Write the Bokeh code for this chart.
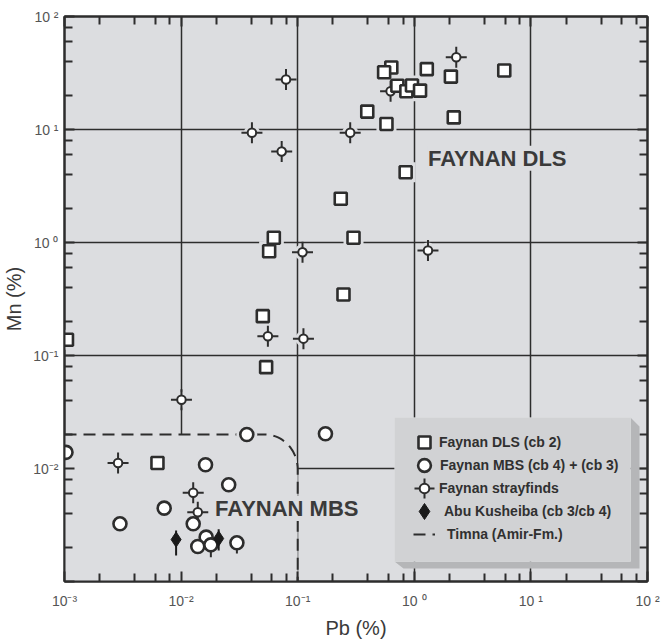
import numpy as np
from bokeh.plotting import figure
from bokeh.models import (Range1d, FixedTicker, LogAxis, Legend, LegendItem,
                          Label, PolyAnnotation)
from bokeh.embed import file_html
from bokeh.resources import INLINE

# ---------------- data ----------------
dls_pb = [0.635, 0.551, 1.28, 2.06, 5.91, 0.716, 0.855, 0.955, 1.12, 0.395, 0.577,
          2.18, 0.843, 0.234, 0.0624, 0.0569, 0.301, 0.247, 0.0502, 0.0536, 0.00105, 0.00627]
dls_mn = [35.4, 32.1, 34.2, 29.4, 33.3, 24.4, 21.8, 24.5, 22.1, 14.4, 11.2,
          12.8, 4.19, 2.44, 1.10, 0.837, 1.10, 0.347, 0.223, 0.0789, 0.138, 0.0112]

mbs_pb = [0.0366, 0.173, 0.0162, 0.0256, 0.00716, 0.00299, 0.0127, 0.0164, 0.0139,
          0.0180, 0.0301, 0.00103]
mbs_mn = [0.0200, 0.0203, 0.0108, 0.00718, 0.00446, 0.00324, 0.00324, 0.00247, 0.00204,
          0.00211, 0.00220, 0.0139]
mbs_tail_pb = [0.0180, 0.0301]
mbs_tail_top = [0.00211, 0.00220]
mbs_tail_low = [0.00164, 0.00177]

sf_pb = [2.29, 0.0794, 0.626, 0.0405, 0.282, 0.0729, 0.110, 1.31, 0.0555, 0.112,
         0.01007, 0.00288, 0.0127, 0.0139]
sf_mn = [43.6, 27.7, 21.8, 9.35, 9.35, 6.39, 0.82, 0.849, 0.148, 0.141,
         0.0406, 0.0112, 0.0061, 0.0041]

ak_pb = [0.00906, 0.0210]
ak_mn = [0.00235, 0.00240]
ak_low = [0.00170, 0.00188]
ak_high = [0.00282, 0.00290]

# Timna (Amir-Fm.) field: Pb < 0.1 %, Mn < 0.02 %, rounded upper-right corner
timna_pb_max = 0.1
timna_mn_max = 0.02
timna_corner_pb = 0.0522
timna_corner_mn = 0.0098
axis_min = 1e-3
axis_max = 1e2

decades = [1e-3, 1e-2, 1e-1, 1, 10, 100]
tick_labels = ["10\u207b\u00b3", "10\u207b\u00b2", "10\u207b\u00b9", "10 \u2070", "10 \u00b9", "10 \u00b2"]
minor_mult = [2, 4, 6, 8]

legend_labels = ["Faynan DLS (cb 2)", "Faynan MBS (cb 4) + (cb 3)", "Faynan strayfinds",
                 "Abu Kusheiba (cb 3/cb 4)", "Timna (Amir-Fm.)"]

# ---------------- styling ----------------
BG = "#dcdde0"
INK = "#2d2d2d"
FONT = "Liberation Sans"

p = figure(width=668, height=644, x_axis_type="log", y_axis_type="log",
           x_range=Range1d(axis_min, axis_max), y_range=Range1d(axis_min, axis_max),
           output_backend="svg", toolbar_location=None,
           min_border_left=62, min_border_right=21, min_border_top=16, min_border_bottom=63,
           background_fill_color=BG, border_fill_color="white")
p.outline_line_color = INK
p.outline_line_width = 2

minor = [m * d for d in decades[:-1] for m in minor_mult]
ticker = FixedTicker(ticks=decades, minor_ticks=minor)

def style_axis(ax):
    ax.ticker = ticker
    ax.axis_line_color = INK
    ax.axis_line_width = 2
    ax.major_tick_line_color = INK
    ax.major_tick_line_width = 2
    ax.minor_tick_line_color = INK
    ax.minor_tick_line_width = 2
    ax.major_tick_in = 10
    ax.major_tick_out = 0
    ax.minor_tick_in = 8
    ax.minor_tick_out = 0
    ax.major_label_text_font = FONT
    ax.major_label_text_font_size = "14px"
    ax.major_label_text_color = "#555555"
    ax.axis_label_text_font = FONT
    ax.axis_label_text_font_style = "normal"
    ax.axis_label_text_font_size = "20px"
    ax.axis_label_text_color = "#3a3a3a"

xax = p.xaxis[0]
yax = p.yaxis[0]
style_axis(xax)
style_axis(yax)
xax.major_label_overrides = {t: s for t, s in zip(decades, tick_labels)}
ylabels = {t: s for t, s in zip(decades, tick_labels)}
ylabels[decades[0]] = " "
yax.major_label_overrides = ylabels
xax.major_label_standoff = 11
yax.major_label_standoff = 6
xax.axis_label = "Pb (%)"
yax.axis_label = "Mn (%)"
xax.axis_label_standoff = 5
yax.axis_label_standoff = 5

for loc in ("above", "right"):
    ax = LogAxis()
    style_axis(ax)
    ax.major_label_text_font_size = "2px"
    ax.major_label_text_color = None
    ax.major_label_standoff = 0
    p.add_layout(ax, loc)

for g in (p.xgrid[0], p.ygrid[0]):
    g.ticker = FixedTicker(ticks=decades[1:-1])
    g.grid_line_color = INK
    g.grid_line_width = 1.5

# ---------------- Timna field outline ----------------
t = np.linspace(0, np.pi / 2, 20)
cx, cy = np.log10(timna_corner_pb), np.log10(timna_corner_mn)
rx = np.log10(timna_pb_max) - cx
ry = np.log10(timna_mn_max) - cy
arc_x = 10 ** (cx + rx * np.sin(t))
arc_y = 10 ** (cy + ry * np.cos(t))
tl_x = [axis_min] + list(arc_x) + [timna_pb_max]
tl_y = [timna_mn_max] + list(arc_y) + [axis_min]

p.patch(tl_x + [axis_min], tl_y + [axis_min], fill_color=BG, line_color=None)
timna_r = p.line(tl_x, tl_y, line_color=INK, line_width=2, line_dash="12 7")

# halos that knock out grid lines around the symbols
p.scatter(sf_pb, sf_mn, marker="circle", size=16, fill_color=BG, line_color=None)
p.scatter(dls_pb, dls_mn, marker="square", size=20, fill_color=BG, line_color=None)
p.scatter(mbs_pb, mbs_mn, marker="circle", size=21, fill_color=BG, line_color=None)

# strayfinds
sf_cross = p.scatter(sf_pb, sf_mn, marker="cross", size=21, line_color=INK, line_width=2)
sf_circ = p.scatter(sf_pb, sf_mn, marker="circle", size=8.5, fill_color="white",
                    line_color=INK, line_width=2)
# DLS
dls_r = p.scatter(dls_pb, dls_mn, marker="square", size=12, fill_color="white",
                  line_color=INK, line_width=2.6)
# MBS
p.segment(mbs_tail_pb, mbs_tail_low, mbs_tail_pb, mbs_tail_top, line_color=INK, line_width=2)
mbs_r = p.scatter(mbs_pb, mbs_mn, marker="circle", size=13, fill_color="white",
                  line_color=INK, line_width=2.6)
# Abu Kusheiba
p.segment(ak_pb, ak_low, ak_pb, ak_high, line_color="#1a1a1a", line_width=2)
ak_r = p.scatter(ak_pb, ak_mn, marker="diamond", size=15, fill_color="#1a1a1a",
                 line_color="#1a1a1a", line_width=1)

# field labels
p.add_layout(Label(x=1.31, y=5.56, text="FAYNAN DLS", text_font=FONT,
                   text_font_size="22px", text_font_style="bold", text_color="#3a3a3a",
                   text_baseline="middle", background_fill_color=BG))
p.add_layout(Label(x=0.01955, y=0.00443, text="FAYNAN MBS", text_font=FONT,
                   text_font_size="22px", text_font_style="bold", text_color="#3a3a3a",
                   text_baseline="middle", background_fill_color=BG))

# ---------------- legend (box with drop shadow, one row per entry) ----------------
# legend frame, in pixels from the plot frame's lower-left corner
LB_L, LB_R, LB_B, LB_T = 330, 566, 20, 164
SH = 9
p.add_layout(PolyAnnotation(
    xs=[LB_R, LB_R + SH, LB_R + SH, LB_L + SH, LB_L, LB_R],
    ys=[LB_T, LB_T - SH, LB_B - 7, LB_B - 7, LB_B, LB_B],
    xs_units="screen", ys_units="screen",
    fill_color="#b5b6b8", fill_alpha=1, line_color=None))
p.add_layout(PolyAnnotation(
    xs=[LB_L, LB_R, LB_R, LB_L], ys=[LB_B, LB_B, LB_T, LB_T],
    xs_units="screen", ys_units="screen",
    fill_color="#d1d2d4", fill_alpha=1, line_color="#e2e3e5", line_width=1))

glyph_cx = 360          # icon centre, px from frame left
row0, pitch = 139, 23   # first row centre, px from frame bottom

def add_row(i, label, renderers, gsize, standoff):
    cy_row = row0 - i * pitch
    h = max(gsize, 20)
    lg = Legend(items=[LegendItem(label=label, renderers=renderers)],
                location=(glyph_cx - gsize / 2, cy_row - h / 2),
                glyph_width=gsize, glyph_height=gsize, padding=0, spacing=0,
                label_standoff=standoff, label_height=20,
                background_fill_alpha=0, border_line_color=None,
                label_text_font=FONT, label_text_font_style="bold",
                label_text_font_size="14px", label_text_color="#303030",
                inactive_fill_alpha=0)
    p.add_layout(lg)

add_row(0, legend_labels[0], [dls_r], 30, 0)
add_row(1, legend_labels[1], [mbs_r], 32, 0)
add_row(2, " ", [sf_cross], 50, 0)
add_row(2, legend_labels[2], [sf_circ], 24, 3)
add_row(3, legend_labels[3], [ak_r], 40, 0)
add_row(4, legend_labels[4], [timna_r], 22, 12)

open("out.html", "w").write(file_html(p, INLINE))
